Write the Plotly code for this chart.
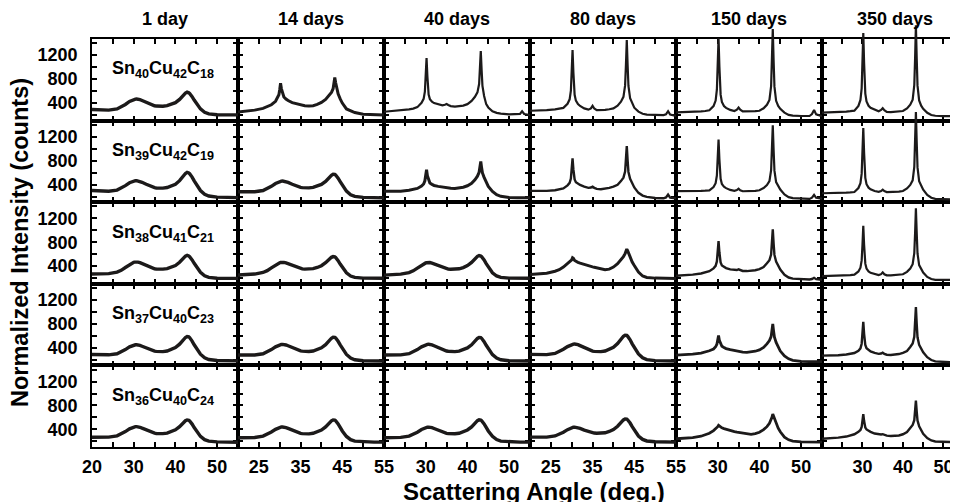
import plotly.graph_objects as go

# ---------------- data ----------------
angle = [20, 22, 24, 26, 27, 28, 29,
         29.5, 29.8, 30.0, 30.2, 30.4, 30.7,
         31, 31.5, 32,
         33, 34, 34.6, 35, 35.4, 36,
         37, 38, 39, 40, 41,
         41.8, 42.4, 42.8, 43.0, 43.2, 43.4, 43.6,
         44, 44.5, 45, 46, 47, 48,
         50, 52, 52.6, 53.1, 53.6, 55]

ages = ["1 day", "14 days", "40 days", "80 days", "150 days", "350 days"]
samples = ["Sn<sub>40</sub>Cu<sub>42</sub>C<sub>18</sub>",
           "Sn<sub>39</sub>Cu<sub>42</sub>C<sub>19</sub>",
           "Sn<sub>38</sub>Cu<sub>41</sub>C<sub>21</sub>",
           "Sn<sub>37</sub>Cu<sub>40</sub>C<sub>23</sub>",
           "Sn<sub>36</sub>Cu<sub>40</sub>C<sub>24</sub>"]

y_ticks = [200, 400, 600, 800, 1000, 1200, 1400]
y_tick_labels = ["", "400", "", "800", "", "1200", ""]
x_ticks = [20, 25, 30, 35, 40, 45, 50, 55]
x_tick_labels = [
    ["20", "", "30", "", "40", "", "50", ""],
    ["", "25", "", "35", "", "45", "", "55"],
    ["", "", "30", "", "40", "", "50", ""],
    ["", "25", "", "35", "", "45", "", "55"],
    ["", "", "30", "", "40", "", "50", ""],
    ["", "", "30", "", "40", "", "50", ""],
]

# row 1: Sn40Cu42C18
r1_d1 = [290, 282, 280, 300, 330, 375, 425, 445, 455, 460, 463, 465, 466, 464, 456, 442,
         408, 375, 360, 353, 348, 345, 345, 355, 375, 405, 460, 525, 565, 580, 578, 570, 558, 542,
         505, 448, 390, 300, 245, 218, 203, 200, 199, 199, 199, 200]
r1_d14 = [250, 260, 280, 310, 335, 370, 428, 483, 537, 623, 730, 641, 547, 500, 466, 440,
          405, 385, 375, 370, 365, 355, 350, 355, 375, 410, 460, 523, 576, 638, 721, 825, 742, 654,
          554, 468, 398, 300, 270, 240, 210, 202, 200, 200, 200, 198]
r1_d40 = [253, 262, 275, 292, 305, 330, 403, 469, 590, 845, 1150, 847, 542, 464, 420, 398,
          373, 360, 370, 382, 365, 348, 340, 342, 355, 380, 435, 503, 577, 717, 969, 1270, 954, 687,
          517, 380, 325, 262, 235, 222, 210, 208, 218, 262, 215, 198]
r1_d80 = [270, 272, 280, 292, 302, 318, 386, 461, 605, 916, 1286, 914, 537, 438, 381, 350,
          309, 288, 308, 352, 307, 280, 280, 285, 295, 310, 356, 422, 503, 694, 1040, 1453, 1035, 684,
          478, 382, 321, 255, 220, 205, 198, 198, 210, 262, 205, 185]
r1_d150 = [243, 245, 250, 258, 266, 278, 348, 440, 621, 1012, 1480, 1012, 539, 417, 348, 317,
           284, 265, 287, 322, 287, 258, 256, 258, 262, 270, 311, 370, 451, 683, 1114, 1637, 1109, 673,
           436, 350, 301, 238, 200, 188, 182, 182, 214, 281, 209, 178]
r1_d350 = [240, 242, 246, 254, 262, 272, 351, 451, 645, 1066, 1570, 1066, 557, 426, 353, 320,
           285, 262, 283, 313, 280, 252, 248, 250, 255, 265, 309, 371, 455, 700, 1152, 1700, 1147, 690,
           442, 354, 303, 236, 198, 186, 180, 180, 182, 185, 182, 178]

# row 2: Sn39Cu42C19
r2_d1 = [300, 290, 288, 308, 338, 382, 430, 448, 456, 460, 463, 465, 465, 462, 452, 438,
         405, 372, 356, 348, 343, 340, 340, 350, 372, 405, 465, 540, 585, 603, 603, 595, 582, 565,
         525, 462, 400, 300, 238, 208, 190, 185, 184, 184, 183, 182]
r2_d14 = [279, 275, 280, 300, 328, 370, 418, 436, 445, 450, 455, 458, 460, 458, 450, 437,
          405, 375, 360, 353, 349, 346, 345, 352, 372, 402, 452, 515, 555, 572, 575, 570, 560, 545,
          508, 448, 388, 290, 230, 202, 185, 180, 179, 179, 178, 178]
r2_d40 = [290, 285, 290, 305, 318, 335, 375, 410, 463, 545, 650, 548, 460, 425, 403, 385,
          370, 357, 350, 348, 345, 340, 335, 340, 355, 380, 420, 480, 540, 605, 685, 785, 680, 595,
          520, 442, 370, 285, 230, 203, 185, 180, 180, 180, 180, 178]
r2_d80 = [295, 292, 295, 305, 315, 335, 387, 429, 501, 650, 837, 653, 485, 439, 410, 393,
          366, 345, 350, 365, 345, 328, 323, 328, 345, 365, 395, 458, 516, 616, 807, 1043, 804, 611,
          496, 413, 352, 261, 215, 195, 175, 170, 185, 232, 182, 168]
r2_d150 = [290, 288, 290, 295, 298, 303, 359, 423, 551, 825, 1155, 827, 496, 410, 363, 340,
           310, 295, 307, 330, 305, 288, 288, 290, 295, 305, 342, 391, 457, 640, 982, 1390, 977, 633,
           442, 366, 316, 235, 190, 172, 162, 160, 180, 228, 178, 165]
r2_d350 = [255, 255, 258, 264, 268, 275, 342, 422, 583, 928, 1345, 930, 512, 406, 348, 321,
           292, 278, 291, 313, 290, 274, 274, 276, 282, 292, 335, 393, 471, 694, 1112, 1615, 1109, 687,
           456, 368, 313, 228, 180, 162, 152, 150, 150, 150, 150, 150]

# row 3: Sn38Cu41C21
r3_d1 = [268, 268, 275, 300, 330, 378, 430, 450, 460, 465, 468, 470, 470, 467, 458, 443,
         410, 378, 362, 355, 352, 350, 350, 360, 380, 410, 465, 530, 568, 580, 578, 570, 558, 542,
         505, 448, 390, 298, 240, 212, 198, 195, 195, 195, 195, 195]
r3_d14 = [253, 258, 268, 295, 325, 372, 422, 442, 452, 458, 462, 465, 466, 464, 456, 442,
          410, 380, 365, 358, 354, 351, 350, 358, 378, 408, 458, 515, 548, 560, 561, 556, 545, 530,
          492, 435, 378, 288, 235, 212, 200, 198, 198, 198, 198, 198]
r3_d40 = [250, 256, 266, 292, 322, 368, 418, 438, 448, 454, 458, 461, 462, 460, 452, 438,
          406, 376, 362, 355, 351, 349, 348, 356, 377, 410, 462, 528, 565, 577, 577, 570, 558, 542,
          503, 443, 383, 290, 236, 212, 200, 198, 198, 198, 198, 198]
r3_d80 = [262, 268, 282, 315, 340, 385, 440, 462, 480, 505, 540, 530, 495, 480, 465, 450,
          425, 402, 392, 388, 382, 370, 352, 340, 350, 385, 440, 505, 560, 610, 650, 685, 660, 620,
          545, 470, 410, 300, 235, 212, 200, 198, 198, 200, 198, 195]
r3_d150 = [240, 245, 258, 278, 292, 315, 363, 405, 479, 630, 820, 633, 461, 413, 384, 368,
           346, 332, 336, 348, 332, 320, 318, 322, 332, 352, 385, 448, 501, 595, 783, 1018, 780, 588,
           476, 398, 342, 256, 210, 192, 182, 178, 185, 205, 182, 172]
r3_d350 = [232, 234, 238, 244, 250, 258, 311, 374, 496, 759, 1075, 760, 442, 359, 311, 289,
           263, 250, 266, 297, 265, 246, 246, 250, 256, 265, 305, 361, 433, 619, 960, 1370, 957, 612,
           418, 341, 293, 220, 185, 172, 168, 168, 168, 168, 168, 168]

# row 4: Sn37Cu40C23
r4_d1 = [288, 282, 282, 300, 328, 370, 415, 432, 440, 445, 448, 450, 450, 448, 440, 426,
         395, 365, 350, 343, 339, 336, 335, 345, 368, 402, 460, 530, 572, 588, 590, 583, 570, 553,
         512, 450, 390, 292, 232, 204, 188, 182, 182, 181, 181, 180]
r4_d14 = [279, 276, 280, 300, 328, 370, 415, 433, 442, 448, 452, 455, 457, 455, 447, 433,
          400, 370, 355, 347, 343, 339, 338, 346, 368, 400, 452, 518, 560, 577, 580, 575, 563, 547,
          508, 447, 385, 288, 228, 200, 184, 179, 178, 178, 178, 178]
r4_d40 = [280, 277, 281, 301, 329, 370, 415, 434, 443, 449, 453, 456, 458, 456, 448, 433,
          400, 369, 354, 346, 342, 338, 336, 344, 365, 398, 450, 515, 556, 572, 575, 570, 558, 542,
          503, 442, 382, 286, 228, 200, 184, 179, 178, 178, 178, 178]
r4_d80 = [290, 284, 286, 305, 333, 375, 420, 440, 449, 454, 458, 461, 463, 461, 452, 436,
          400, 367, 352, 344, 340, 336, 335, 345, 370, 408, 470, 545, 592, 610, 613, 607, 594, 576,
          533, 466, 400, 296, 232, 202, 185, 180, 179, 179, 178, 178]
r4_d150 = [278, 282, 292, 312, 328, 350, 380, 417, 459, 523, 605, 526, 455, 426, 405, 386,
           368, 352, 343, 338, 335, 328, 322, 328, 342, 365, 405, 465, 519, 586, 684, 800, 679, 576,
           489, 412, 345, 262, 215, 190, 172, 168, 168, 168, 168, 168]
r4_d350 = [268, 270, 276, 288, 298, 312, 351, 390, 468, 631, 835, 633, 446, 393, 359, 339,
           313, 298, 303, 318, 298, 284, 280, 285, 295, 315, 345, 413, 471, 583, 804, 1080, 800, 575,
           451, 378, 325, 242, 195, 172, 160, 157, 157, 157, 157, 157]

# row 5: Sn36Cu40C24
r5_d1 = [268, 265, 270, 292, 320, 362, 408, 425, 434, 439, 442, 445, 445, 443, 435, 420,
         388, 357, 342, 336, 332, 329, 328, 338, 360, 392, 445, 510, 545, 558, 560, 553, 540, 525,
         488, 430, 372, 282, 228, 203, 190, 186, 186, 185, 185, 185]
r5_d14 = [259, 258, 265, 288, 315, 355, 400, 418, 427, 432, 436, 439, 440, 438, 430, 416,
          385, 355, 340, 333, 329, 326, 325, 334, 356, 388, 440, 505, 543, 558, 561, 556, 545, 530,
          492, 433, 373, 282, 228, 203, 190, 187, 186, 186, 186, 186]
r5_d40 = [259, 259, 266, 288, 314, 353, 398, 416, 424, 429, 433, 436, 437, 435, 428, 414,
          384, 355, 340, 333, 329, 327, 326, 335, 357, 390, 442, 506, 545, 559, 561, 556, 545, 530,
          492, 433, 373, 283, 229, 204, 190, 187, 186, 186, 186, 186]
r5_d80 = [270, 266, 270, 290, 315, 352, 395, 413, 422, 428, 432, 435, 437, 435, 428, 415,
          387, 362, 349, 343, 339, 336, 335, 343, 365, 398, 452, 518, 558, 574, 577, 572, 560, 545,
          506, 445, 383, 288, 232, 206, 192, 188, 187, 187, 186, 186]
r5_d150 = [243, 248, 262, 285, 305, 335, 380, 405, 425, 445, 468, 455, 435, 425, 412, 400,
           380, 362, 352, 348, 343, 335, 322, 318, 328, 352, 395, 445, 500, 550, 600, 655, 620, 575,
           500, 420, 360, 270, 225, 205, 192, 188, 188, 188, 187, 185]
r5_d350 = [243, 250, 262, 280, 295, 318, 359, 390, 439, 536, 655, 539, 430, 398, 374, 358,
           330, 315, 314, 320, 308, 295, 288, 290, 298, 318, 355, 422, 473, 553, 700, 880, 696, 546,
           453, 382, 325, 254, 215, 198, 188, 186, 186, 186, 186, 186]

panels = [
    [r1_d1, r1_d14, r1_d40, r1_d80, r1_d150, r1_d350],
    [r2_d1, r2_d14, r2_d40, r2_d80, r2_d150, r2_d350],
    [r3_d1, r3_d14, r3_d40, r3_d80, r3_d150, r3_d350],
    [r4_d1, r4_d14, r4_d40, r4_d80, r4_d150, r4_d350],
    [r5_d1, r5_d14, r5_d40, r5_d80, r5_d150, r5_d350],
]

# ---------------- style / geometry ----------------
LINE_W = [
    [3.4, 3.0, 2.2, 2.2, 2.2, 2.2],
    [3.4, 3.4, 3.0, 2.4, 2.2, 2.2],
    [3.4, 3.4, 3.4, 3.0, 2.4, 2.2],
    [3.4, 3.4, 3.4, 3.4, 2.8, 2.4],
    [3.4, 3.4, 3.4, 3.4, 2.8, 2.4],
]
LINE_C = "#1c1a1a"
FONT = "Liberation Sans, Arial, Helvetica, sans-serif"

OFF = 8                                # default page margin of the html body
SCR_W, SCR_H = 958, 502
W, H = SCR_W - OFF, SCR_H - OFF        # figure size so that it ends at the window edge
# everything below is given in window (screen) pixels
PL, PR, PT, PB = 92, 958, 12, 447      # paper area
FT = 39                                # top of the frame grid
ROW_H = (PB - FT) / 5
COL_W = 146
EXT = 26                               # px a curve may overshoot above its frame
X0, X1 = 20, 55
LAST_X1 = 53.6                         # the last (cut) panel's visible x range end
Y0, Y1 = 105, 1470


def fx(px):
    return (px - PL) / (PR - PL)


def fy(py):
    return (PB - py) / (PB - PT)


def ax_key(kind, n):
    return f"{kind}axis" if n == 1 else f"{kind}axis{n}"


def ax_ref(kind, n):
    return kind if n == 1 else f"{kind}{n}"


tick_font = dict(family=FONT, size=18, color="black", weight="bold")

fig = go.Figure()
lay = dict(
    width=W, height=H, template="none",
    margin=dict(l=PL - OFF, r=SCR_W - PR, t=PT - OFF, b=SCR_H - PB, pad=0, autoexpand=False),
    paper_bgcolor="white", plot_bgcolor="rgba(0,0,0,0)",
    showlegend=False, hovermode=False,
    font=dict(family=FONT, color="black"),
)
annotations = []

for r in range(5):
    top = FT + r * ROW_H
    bot = top + ROW_H
    for c in range(6):
        xl = PL + c * COL_W
        xr = min(PL + (c + 1) * COL_W, PR)
        last = c == 5
        xmax = LAST_X1 if last else X1
        nf = r * 6 + c + 1          # frame axes
        nd = nf + 30                # data axes (taller, invisible)

        lay[ax_key("x", nf)] = dict(
            domain=[fx(xl), fx(xr)], range=[X0, xmax], anchor=ax_ref("y", nf),
            showline=True, linecolor="black", linewidth=1.8, mirror="ticks",
            ticks="inside", ticklen=5, tickwidth=1.5, tickcolor="black",
            tickmode="array", tickvals=x_ticks, ticktext=x_tick_labels[c],
            showticklabels=(r == 4), tickfont=tick_font, ticklabelstandoff=2,
            showgrid=False, zeroline=False, fixedrange=True, automargin=False,
        )
        lay[ax_key("y", nf)] = dict(
            domain=[fy(bot), fy(top)], range=[Y0, Y1], anchor=ax_ref("x", nf),
            showline=True, linecolor="black", linewidth=1.8,
            mirror=(False if last else "ticks"),
            ticks="inside", ticklen=5, tickwidth=1.5, tickcolor="black",
            tickmode="array", tickvals=y_ticks, ticktext=y_tick_labels,
            showticklabels=(c == 0), tickfont=tick_font, ticklabelstandoff=9,
            showgrid=False, zeroline=False, fixedrange=True, automargin=False,
        )
        lay[ax_key("x", nd)] = dict(
            domain=[fx(xl), fx(xr)], range=[X0, xmax], anchor=ax_ref("y", nd),
            visible=False, fixedrange=True,
        )
        lay[ax_key("y", nd)] = dict(
            domain=[fy(bot), fy(top - EXT)],
            range=[Y0, Y1 + EXT * (Y1 - Y0) / ROW_H], anchor=ax_ref("x", nd),
            visible=False, fixedrange=True,
        )

        fig.add_trace(go.Scatter(
            x=[None], y=[None], mode="lines", showlegend=False, hoverinfo="skip",
            xaxis=ax_ref("x", nf), yaxis=ax_ref("y", nf)))
        fig.add_trace(go.Scatter(
            x=angle, y=panels[r][c], mode="lines", showlegend=False, hoverinfo="skip",
            line=dict(color=LINE_C, width=LINE_W[r][c]),
            xaxis=ax_ref("x", nd), yaxis=ax_ref("y", nd)))

    annotations.append(dict(
        text=samples[r], xref="paper", yref="paper", x=fx(110), y=fy(top + 31),
        xanchor="left", yanchor="middle", showarrow=False,
        font=dict(family=FONT, size=18, color="black", weight="bold")))

for c in range(6):
    annotations.append(dict(
        text=ages[c], xref="paper", yref="paper", x=fx(PL + c * COL_W + COL_W / 2), y=fy(19),
        xanchor="center", yanchor="middle", showarrow=False,
        font=dict(family=FONT, size=18, color="black", weight="bold")))

annotations.append(dict(
    text="Normalized Intensity (counts)", xref="paper", yref="paper",
    x=fx(20), y=fy(243), xanchor="center", yanchor="middle", textangle=-90,
    showarrow=False, font=dict(family=FONT, size=23.5, color="black", weight="bold")))
annotations.append(dict(
    text="Scattering Angle (deg.)", xref="paper", yref="paper",
    x=fx(534), y=fy(491), xanchor="center", yanchor="middle",
    showarrow=False, font=dict(family=FONT, size=24, color="black", weight="bold")))

lay["annotations"] = annotations
fig.update_layout(**lay)
fig.write_html("out.html")
